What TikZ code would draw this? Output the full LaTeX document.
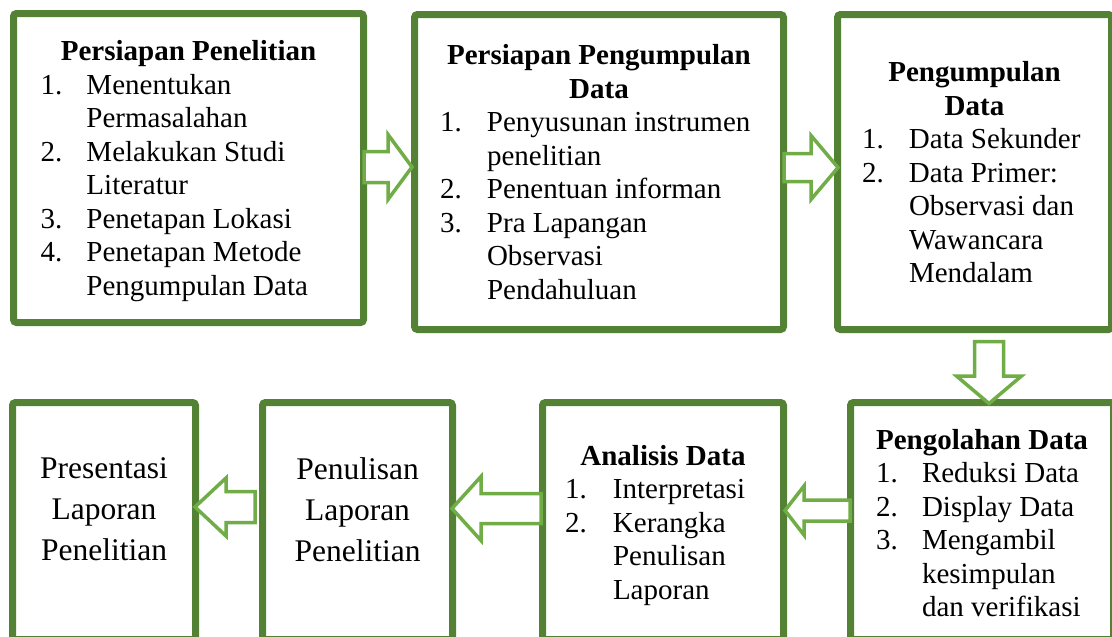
\documentclass[tikz,border=0pt]{standalone}
\usepackage{fontspec}
\setmainfont{Liberation Serif}
\usepackage{xcolor}
\usetikzlibrary{positioning}

\definecolor{boxgreen}{HTML}{548235}
\definecolor{arrowgreen}{HTML}{70AD47}

\begin{document}
\begin{tikzpicture}[
    x=1pt, y=-1pt,
    font=\fontsize{29}{33.5}\selectfont,
    box/.style={rectangle, draw=boxgreen, line width=7pt, rounded corners=3pt, fill=white, inner sep=0pt},
    txt/.style={align=center, inner sep=0pt},
    bigtxt/.style={txt, font=\fontsize{31.5}{41}\selectfont},
    fat/.style={draw=arrowgreen, fill=white, line width=3.5pt, line join=miter},
  ]
    \useasboundingbox (0,0) rectangle (1112,637);
    \clip (0,0) rectangle (1112,637);

    % Boxes
    \node[box, minimum width=350pt, minimum height=309pt] (prep) at (188.5,168) {};
    \node[box, minimum width=369pt, minimum height=315pt, right=44pt of prep, yshift=-4pt] (prepdata) {};
    \node[box, minimum width=274pt, minimum height=315pt, right=47pt of prepdata] (kumpul) {};
    \node[box, minimum width=263pt, minimum height=237pt, below=66pt of kumpul, xshift=7.5pt] (olah) {};
    \node[box, minimum width=241pt, minimum height=237pt, left=60pt of olah] (analisis) {};
    \node[box, minimum width=190pt, minimum height=237pt, left=83pt of analisis] (tulis) {};
    \node[box, minimum width=183pt, minimum height=237pt, left=60pt of tulis] (presentasi) {};

    % Texts
    \node[txt, yshift=-5pt] (prepText) at (prep) {\textbf{Persiapan Penelitian}\\
      \begin{tabular}[t]{@{}p{46pt}@{}p{250pt}@{}}
        1. & Menentukan\\
           & Permasalahan\\
        2. & Melakukan Studi\\
           & Literatur\\
        3. & Penetapan Lokasi\\
        4. & Penetapan Metode\\
           & Pengumpulan Data
      \end{tabular}};
    \node[txt, yshift=-5pt] (prepdataText) at (prepdata) {\textbf{Persiapan Pengumpulan}\\ \textbf{Data}\\
      \begin{tabular}[t]{@{}p{47pt}@{}p{271pt}@{}}
        1. & Penyusunan instrumen\\
           & penelitian\\
        2. & Penentuan informan\\
        3. & Pra Lapangan\\
           & Observasi\\
           & Pendahuluan
      \end{tabular}};
    \node[txt, yshift=-5pt] (kumpulText) at (kumpul) {\textbf{Pengumpulan}\\ \textbf{Data}\\
      \begin{tabular}[t]{@{}p{47pt}@{}p{178pt}@{}}
        1. & Data Sekunder\\
        2. & Data Primer:\\
           & Observasi dan\\
           & Wawancara\\
           & Mendalam
      \end{tabular}};
    \node[txt, below=30pt of olah.north] (olahText) {\textbf{Pengolahan Data}\\
      \begin{tabular}[t]{@{}p{46pt}@{}p{166pt}@{}}
        1. & Reduksi Data\\
        2. & Display Data\\
        3. & Mengambil\\
           & kesimpulan\\
           & dan verifikasi
      \end{tabular}};
    \node[txt, below=46pt of analisis.north] (analisisText) {\textbf{Analisis Data}\\
      \begin{tabular}[t]{@{}p{48pt}@{}p{148pt}@{}}
        1. & Interpretasi\\
        2. & Kerangka\\
           & Penulisan\\
           & Laporan
      \end{tabular}};
    \node[bigtxt, below=58pt of tulis.north] (tulisText) {Penulisan\\Laporan\\Penelitian};
    \node[bigtxt, below=58.5pt of presentasi.north] (presentasiText) {Presentasi\\Laporan\\Penelitian};

    % Arrows
    \draw[fat] ([shift={(-3,-1)}]prep.east) ++(0,-15.5) -- ++(24,0) -- ++(0,-17) -- ++(24,32.5) -- ++(-24,32.5) -- ++(0,-17) -- ++(-24,0) -- cycle;
    \draw[fat] ([shift={(-3,-4.5)}]prepdata.east) ++(0,-14) -- ++(27,0) -- ++(0,-18) -- ++(27,32) -- ++(-27,32) -- ++(0,-18) -- ++(-27,0) -- cycle;
    \draw[fat] ([shift={(14.5,8.5)}]kumpul.south) ++(-14.5,0) -- ++(0,34.5) -- ++(-18,0) -- ++(32.5,27.5) -- ++(32.5,-27.5) -- ++(-18,0) -- ++(0,-34.5) -- cycle;
    \draw[fat] ([shift={(3,-10.5)}]olah.west) ++(0,-10.5) -- ++(-46,0) -- ++(0,-14) -- ++(-19,24.5) -- ++(19,24.5) -- ++(0,-14) -- ++(46,0) -- cycle;
    \draw[fat] ([shift={(2,-12.5)}]analisis.west) ++(0,-15) -- ++(-60,0) -- ++(0,-17) -- ++(-29,32) -- ++(29,32) -- ++(0,-17) -- ++(60,0) -- cycle;
    \draw[fat] ([shift={(-4,-14)}]tulis.west) ++(0,-15.5) -- ++(-29,0) -- ++(0,-13.5) -- ++(-31,29) -- ++(31,29) -- ++(0,-13.5) -- ++(29,0) -- cycle;

  \end{tikzpicture}
\end{document}
